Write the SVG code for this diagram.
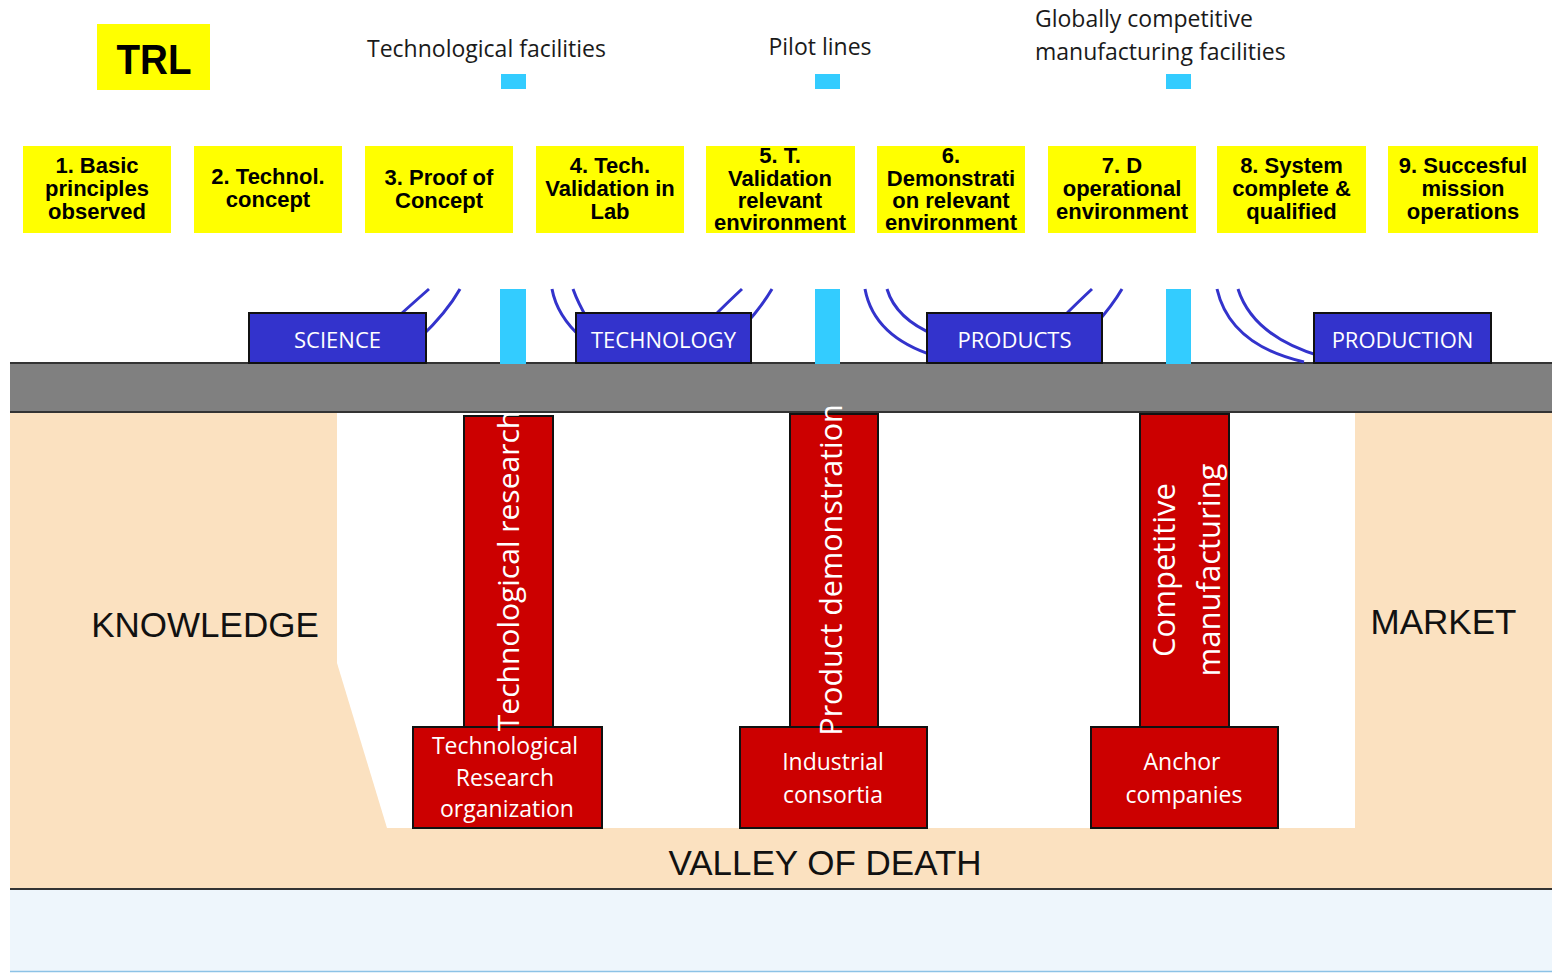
<svg xmlns="http://www.w3.org/2000/svg" width="1552" height="973" viewBox="0 0 1552 973">
<style>
.trl{fill:#ffff00}
.trlt{font-family:"Liberation Sans",Arial,sans-serif;font-weight:bold;font-size:22px;fill:#000;text-anchor:middle}
.top{font-family:"Open Sans",sans-serif;font-size:23px;fill:#1a1a1a}
.blue{fill:#3333cc;stroke:#111;stroke-width:2}
.bt{font-family:"Open Sans",sans-serif;font-size:22px;fill:#fff;text-anchor:middle}
.cyan{fill:#33ccff}
.red{fill:#cc0000;stroke:#111;stroke-width:2}
.rt{font-family:"Open Sans",sans-serif;fill:#fff;text-anchor:middle}
.arc{fill:none;stroke:#3333cc;stroke-width:3}
.big{font-family:"Liberation Sans",Arial,sans-serif;font-size:35px;fill:#111;text-anchor:middle}
</style>
<rect x="0" y="0" width="1552" height="973" fill="#ffffff"/>
<g id="background">
  <rect x="10" y="890" width="1542" height="81" fill="#eef6fc"/>
  <line x1="10" y1="971.5" x2="1552" y2="971.5" stroke="#8cc2e6" stroke-width="1.5"/>
  <rect x="10" y="412" width="1542" height="477" fill="#fbe1c0"/>
  <line x1="10" y1="889" x2="1552" y2="889" stroke="#333" stroke-width="2"/>
  <polygon points="337,413 1355,413 1355,828 387,828 337,663" fill="#ffffff"/>
  <rect x="10" y="363" width="1542" height="49" fill="#808080"/>
  <line x1="10" y1="363" x2="1552" y2="363" stroke="#333" stroke-width="2"/>
  <line x1="10" y1="412" x2="1552" y2="412" stroke="#333" stroke-width="2"/>
</g>
<g id="connectors">
  <path class="arc" d="M429,289 Q412,304 392,322"/>
  <path class="arc" d="M460,289 Q447,312 420,338"/>
  <path class="arc" d="M552,289 Q557,316 582,338"/>
  <path class="arc" d="M573,289 Q578,303 588,320"/>
  <path class="arc" d="M742,289 Q728,302 710,320"/>
  <path class="arc" d="M772,289 Q762,306 745,325"/>
  <path class="arc" d="M865,289 Q874,337 935,356"/>
  <path class="arc" d="M887,289 Q896,319 935,335"/>
  <path class="arc" d="M1092,289 Q1078,302 1060,320"/>
  <path class="arc" d="M1122,289 Q1112,306 1095,325"/>
  <path class="arc" d="M1217,289 Q1230,345 1304,362"/>
  <path class="arc" d="M1238,289 Q1253,336 1320,356"/>
</g>
<g id="facility-bars">
  <rect class="cyan" x="500" y="289" width="26" height="75"/>
  <rect class="cyan" x="815" y="289" width="25" height="75"/>
  <rect class="cyan" x="1166" y="289" width="25" height="75"/>
</g>
<g id="science"><rect class="blue" x="249" y="313" width="177" height="50"/><text class="bt" x="337.5" y="348">SCIENCE</text></g>
<g id="technology"><rect class="blue" x="576" y="313" width="175" height="50"/><text class="bt" x="663.5" y="348">TECHNOLOGY</text></g>
<g id="products"><rect class="blue" x="927" y="313" width="175" height="50"/><text class="bt" x="1014.5" y="348">PRODUCTS</text></g>
<g id="production"><rect class="blue" x="1314" y="313" width="177" height="50"/><text class="bt" x="1402.5" y="348">PRODUCTION</text></g>

<g id="pillar-research">
  <rect class="red" x="464" y="416" width="89" height="311"/>
  <rect class="red" x="413" y="727" width="189" height="101"/>
  <text class="rt" font-size="30" transform="translate(519,571) rotate(-90)">Technological research</text>
  <text class="rt" font-size="23" x="505" y="754">Technological</text>
  <text class="rt" font-size="23" x="505" y="786">Research</text>
  <text class="rt" font-size="23" x="507" y="817">organization</text>
</g>
<g id="pillar-demonstration">
  <rect class="red" x="790" y="414" width="88" height="313"/>
  <rect class="red" x="740" y="727" width="187" height="101"/>
  <text class="rt" font-size="30.5" transform="translate(842,570) rotate(-90)">Product demonstration</text>
  <text class="rt" font-size="23" x="833" y="770">Industrial</text>
  <text class="rt" font-size="23" x="833" y="803">consortia</text>
</g>
<g id="pillar-manufacturing">
  <rect class="red" x="1140" y="414" width="89" height="313"/>
  <rect class="red" x="1091" y="727" width="187" height="101"/>
  <text class="rt" font-size="31" transform="translate(1175,570) rotate(-90)">Competitive</text>
  <text class="rt" font-size="31" transform="translate(1220,570) rotate(-90)">manufacturing</text>
  <text class="rt" font-size="23" x="1182" y="770">Anchor</text>
  <text class="rt" font-size="23" x="1184" y="803">companies</text>
</g>

<g id="knowledge"><text class="big" x="205" y="637">KNOWLEDGE</text></g>
<g id="market"><text class="big" x="1443.5" y="634">MARKET</text></g>
<g id="valley"><text class="big" x="825" y="875">VALLEY OF DEATH</text></g>

<g id="trl-title"><rect class="trl" x="97" y="24" width="113" height="66"/><text x="154" y="74" font-family="'Liberation Sans',Arial,sans-serif" font-weight="bold" font-size="42" text-anchor="middle" textLength="75" lengthAdjust="spacingAndGlyphs" fill="#000">TRL</text></g>

<g id="label-tech-facilities"><text class="top" x="486.5" y="57" text-anchor="middle">Technological facilities</text><rect class="cyan" x="501" y="74" width="25" height="15"/></g>
<g id="label-pilot-lines"><text class="top" x="820" y="55" text-anchor="middle">Pilot lines</text><rect class="cyan" x="815" y="74" width="25" height="15"/></g>
<g id="label-global"><text class="top" x="1035" y="27">Globally competitive</text><text class="top" x="1035" y="60">manufacturing facilities</text><rect class="cyan" x="1166" y="74" width="25" height="15"/></g>

<g id="trl1"><rect class="trl" x="23" y="146" width="148" height="87"/><text class="trlt" x="97" y="173">1. Basic</text><text class="trlt" x="97" y="196">principles</text><text class="trlt" x="97" y="219">observed</text></g>
<g id="trl2"><rect class="trl" x="194" y="146" width="148" height="87"/><text class="trlt" x="268" y="184">2. Technol.</text><text class="trlt" x="268" y="207">concept</text></g>
<g id="trl3"><rect class="trl" x="365" y="146" width="148" height="87"/><text class="trlt" x="439" y="185">3. Proof of</text><text class="trlt" x="439" y="208">Concept</text></g>
<g id="trl4"><rect class="trl" x="536" y="146" width="148" height="87"/><text class="trlt" x="610" y="173">4. Tech.</text><text class="trlt" x="610" y="196">Validation in</text><text class="trlt" x="610" y="219">Lab</text></g>
<g id="trl5"><rect class="trl" x="706" y="146" width="149" height="87"/><text class="trlt" x="780" y="163">5. T.</text><text class="trlt" x="780" y="185.5">Validation</text><text class="trlt" x="780" y="207.5">relevant</text><text class="trlt" x="780" y="229.5">environment</text></g>
<g id="trl6"><rect class="trl" x="877" y="146" width="148" height="87"/><text class="trlt" x="951" y="163">6.</text><text class="trlt" x="951" y="185.5">Demonstrati</text><text class="trlt" x="951" y="207.5">on relevant</text><text class="trlt" x="951" y="229.5">environment</text></g>
<g id="trl7"><rect class="trl" x="1048" y="146" width="148" height="87"/><text class="trlt" x="1122" y="173">7. D</text><text class="trlt" x="1122" y="196">operational</text><text class="trlt" x="1122" y="219">environment</text></g>
<g id="trl8"><rect class="trl" x="1217" y="146" width="149" height="87"/><text class="trlt" x="1291.5" y="173">8. System</text><text class="trlt" x="1291.5" y="196">complete &amp;</text><text class="trlt" x="1291.5" y="219">qualified</text></g>
<g id="trl9"><rect class="trl" x="1388" y="146" width="150" height="87"/><text class="trlt" x="1463" y="173">9. Succesful</text><text class="trlt" x="1463" y="196">mission</text><text class="trlt" x="1463" y="219">operations</text></g>
</svg>
